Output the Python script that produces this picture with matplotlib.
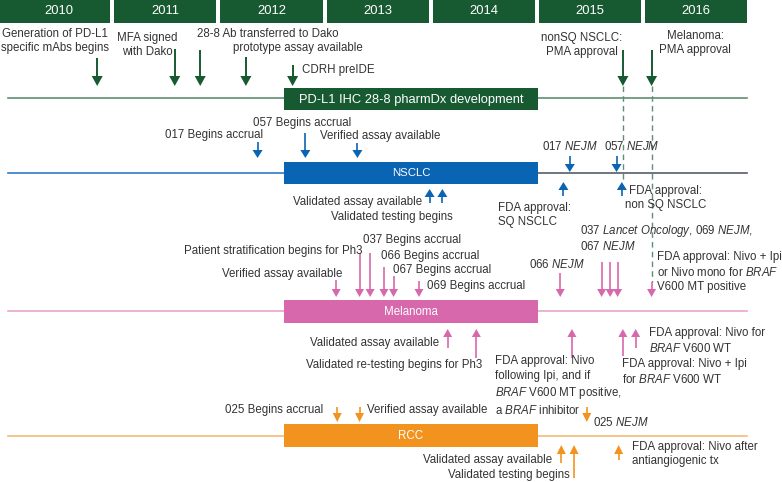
import matplotlib
matplotlib.use("Agg")
import matplotlib.pyplot as plt
from matplotlib.patches import Rectangle, Polygon

plt.rcParams['font.family'] = ['Liberation Sans', 'DejaVu Sans']
plt.rcParams['mathtext.fontset'] = 'custom'
plt.rcParams['mathtext.rm'] = 'Liberation Sans'
plt.rcParams['mathtext.it'] = 'Liberation Sans:italic'

# ---------------- data ----------------
years = [2010, 2011, 2012, 2013, 2014, 2015, 2016]
program_start = 2012.60
program_end = 2014.99
row_names = ["PD-L1 IHC 28-8 pharmDx development", "NSCLC", "Melanoma", "RCC"]

dev_dates = [2010.84, 2011.57, 2011.81, 2012.24, 2012.68, 2015.79, 2016.06]
nsclc_down_dates = [2012.35, 2012.80, 2013.29, 2015.29, 2015.73]
nsclc_up_dates = [2013.97, 2014.09, 2015.23, 2015.78]
mel_down_dates = [2013.09, 2013.31, 2013.41, 2013.54, 2013.63, 2013.87,
                  2015.20, 2015.59, 2015.67, 2015.74, 2016.06]
mel_up_dates = [2014.14, 2014.41, 2015.31, 2015.79, 2015.91]
rcc_down_dates = [2013.10, 2013.31, 2015.45]
rcc_up_dates = [2015.21, 2015.33, 2015.75]

# ---------------- layout ----------------
PX0, PPY = 8.0, 106.2          # pixel of 2010.0, pixels per year
W, H = 782, 482
def X(px):
    return 2010 + (px - PX0) / PPY

fig = plt.figure(figsize=(W / 100, H / 100), dpi=100)
ax = fig.add_axes([0, 0, 1, 1])
ax.set_xlim(X(0), X(W))
ax.set_ylim(H, 0)
ax.axis('off')

TXT = '#333333'
FS = 8.3
GREEN = '#175a32'
GREEN_L = '#5f8f73'
BLUE = '#0a64b4'
BLUE_L = '#2f7cc4'
GRAY_L = '#555d66'
PINK = '#d868ac'
PINK_L = '#eaa6cc'
ORANGE = '#f3931f'
ORANGE_L = '#f6bb78'


def arrow(t, y0, y1, color, hw, hl, lw=1.2):
    s = 1 if y1 > y0 else -1
    ax.plot([t, t], [y0, y1 - s * hl * 0.9], color=color, lw=lw,
            solid_capstyle='butt', zorder=3)
    hwy = hw / PPY / 2
    ax.add_patch(Polygon([[t - hwy, y1 - s * hl], [t + hwy, y1 - s * hl], [t, y1]],
                         closed=True, color=color, lw=0, zorder=4))


def label(xpx, y, s, ha='left', ma=None, fs=FS):
    ax.text(X(xpx), y, s, ha=ha, va='center', fontsize=fs, color=TXT,
            multialignment=ma or ha, linespacing=1.3)


# year header
for i, yr in enumerate(years):
    x0 = yr if i > 0 else X(0)
    x1 = yr + 1 - 4 / PPY
    ax.add_patch(Rectangle((x0, 0), x1 - x0, 22.5, color=GREEN, lw=0))
    ax.text((yr + x1) / 2, 11.5, str(yr), ha='center', va='center',
            color='white', fontsize=9.4)

x_line_end = X(747)
rows = [(98, 88, 110, GREEN_L, GREEN_L, GREEN, 9.3),
        (173, 162, 184, BLUE_L, GRAY_L, BLUE, 8.2),
        (311, 300, 323, PINK_L, PINK_L, PINK, 8.3),
        (436, 424, 447, ORANGE_L, ORANGE_L, ORANGE, 8.3)]
for name, (yl, yb0, yb1, cl, cr, cb, fs) in zip(row_names, rows):
    ax.plot([years[0], program_start], [yl, yl], color=cl, lw=1.2, zorder=1)
    ax.plot([program_end, x_line_end], [yl, yl], color=cr, lw=1.2, zorder=1)
    ax.add_patch(Rectangle((program_start, yb0), program_end - program_start,
                           yb1 - yb0, color=cb, lw=0, zorder=2))
    ax.text((program_start + program_end) / 2, (yb0 + yb1) / 2 + 0.5, name,
            ha='center', va='center', color='white', fontsize=fs, zorder=3)

# ---------------- development row ----------------
dev_tails = [58, 49, 50, 57, 65, 50, 50]
for t, y0 in zip(dev_dates, dev_tails):
    arrow(t, y0, 86, GREEN, 11, 10, lw=1.4)
# dashed approval guides
ax.plot([dev_dates[5]] * 2, [86, 182], color=GREEN_L, lw=1.0, ls=(0, (4, 3)), zorder=1)
ax.plot([dev_dates[6]] * 2, [86, 282], color=GREEN_L, lw=1.0, ls=(0, (4, 3)), zorder=1)

label(55, 41, "Generation of PD-L1\nspecific mAbs begins", ha='center')
label(147, 45, "MFA signed\nwith Dako", ha='center')
label(197, 34, "28-8 Ab transferred to Dako")
label(233, 48, "prototype assay available")
label(302, 70, "CDRH preIDE")
label(582, 45, "nonSQ NSCLC:\nPMA approval", ha='center')
label(695, 43, "Melanoma:\nPMA approval", ha='center')

# ---------------- NSCLC ----------------
nd_tails = [142, 133, 143, 156, 156]
nd_tips = [158, 158, 158, 172, 172]
for t, y0, y1 in zip(nsclc_down_dates, nd_tails, nd_tips):
    arrow(t, y0, y1, BLUE, 10, 8)
nu_tails = [203, 203, 196, 196]
nu_tips = [189, 189, 182, 182]
for t, y0, y1 in zip(nsclc_up_dates, nu_tails, nu_tips):
    arrow(t, y0, y1, BLUE, 10, 8)

label(263, 135, "017 Begins accrual", ha='right')
label(253, 123, "057 Begins accrual")
label(320, 136, "Verified assay available")
label(542, 147, r"017 $\mathit{NEJM}$")
label(604, 147, r"057 $\mathit{NEJM}$")
label(422, 202, "Validated assay available", ha='right')
label(453, 217, "Validated testing begins", ha='right')
label(498, 215, "FDA approval:\nSQ NSCLC")
label(666, 198, "FDA approval:\nnon SQ NSCLC", ha='center')

# ---------------- Melanoma ----------------
md_tails = [280, 253, 253, 267, 276, 281, 273, 262, 262, 262, 282]
for t, y0 in zip(mel_down_dates, md_tails):
    arrow(t, y0, 297, PINK, 9, 8)
mu_tails = [348, 358, 358, 356, 348]
for t, y0 in zip(mel_up_dates, mu_tails):
    arrow(t, y0, 329, PINK, 9, 8)

label(342, 274, "Verified assay available", ha='right')
label(363, 251, "Patient stratification begins for Ph3", ha='right')
label(363, 240, "037 Begins accrual")
label(381, 256, "066 Begins accrual")
label(393, 270, "067 Begins accrual")
label(427, 286, "069 Begins accrual")
label(529, 264, r"066 $\mathit{NEJM}$")
label(580, 231, r"037 $\mathit{Lancet\ Oncology}$, 069 $\mathit{NEJM}$,")
label(580, 246, r"067 $\mathit{NEJM}$")
label(657, 272, "FDA approval: Nivo + Ipi\nor Nivo mono for $\\mathit{BRAF}$\nV600 MT positive")
label(439, 343, "Validated assay available", ha='right')
label(482, 365, "Validated re-testing begins for Ph3", ha='right')
label(495, 386, "FDA approval: Nivo\nfollowing Ipi, and if\n$\\mathit{BRAF}$ V600 MT positive,\na $\\mathit{BRAF}$ inhibitor")
label(649, 341, "FDA approval: Nivo for\n$\\mathit{BRAF}$ V600 WT")
label(622, 372, "FDA approval: Nivo + Ipi\nfor $\\mathit{BRAF}$ V600 WT")

# ---------------- RCC ----------------
rd_tails = [407, 407, 407]
for t, y0 in zip(rcc_down_dates, rd_tails):
    arrow(t, y0, 422, ORANGE, 9, 9)
ru_tails = [463, 478, 460]
for t, y0 in zip(rcc_up_dates, ru_tails):
    arrow(t, y0, 445, ORANGE, 9, 9)

label(323, 410, "025 Begins accrual", ha='right')
label(367, 410, "Verified assay available")
label(593, 422, r"025 $\mathit{NEJM}$")
label(552, 460, "Validated assay available", ha='right')
label(570, 475, "Validated testing begins", ha='right')
label(632, 454, "FDA approval: Nivo after\nantiangiogenic tx")

fig.savefig("out.png", dpi=100)
